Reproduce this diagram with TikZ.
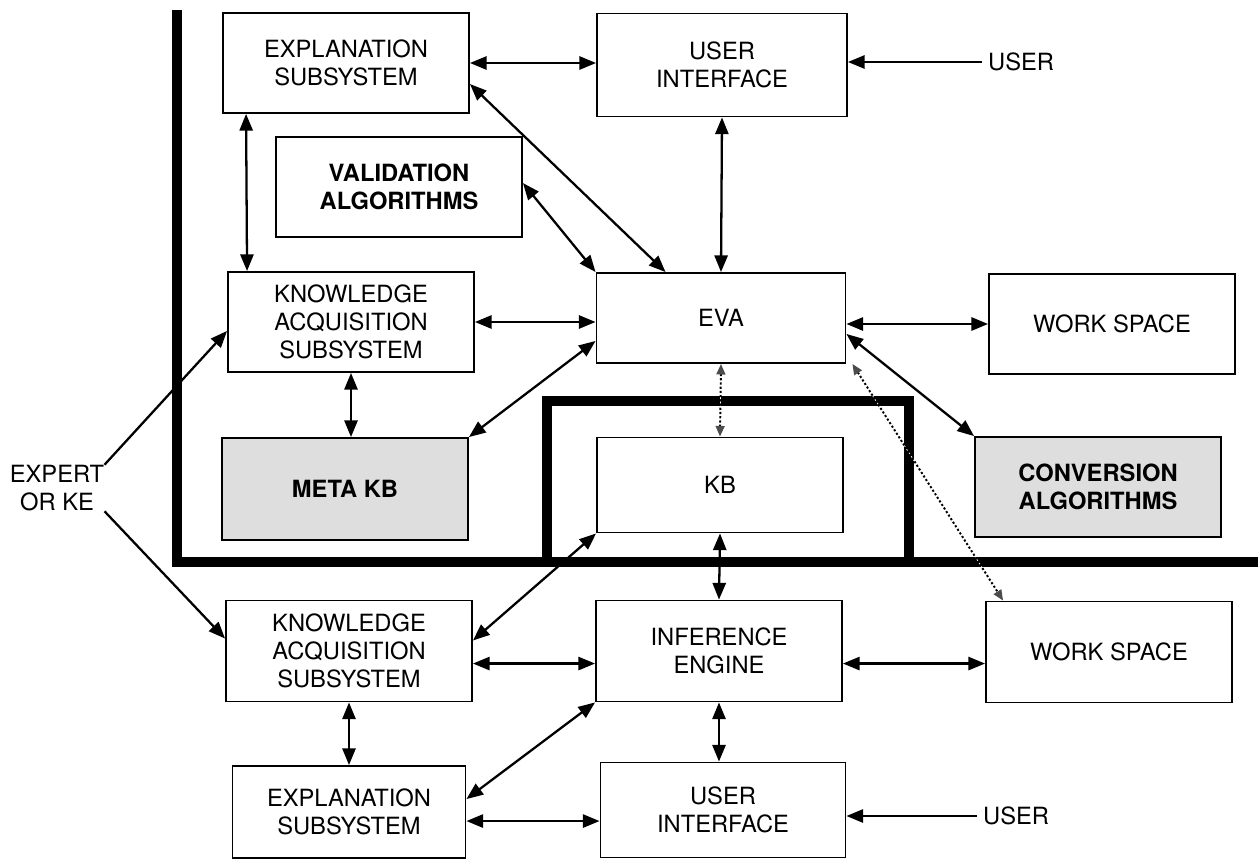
\documentclass[tikz,border=0pt]{standalone}
\usepackage{fontspec}
\setmainfont{TeX Gyre Heros}
\usetikzlibrary{arrows.meta,calc}

\begin{document}
\begin{tikzpicture}[x=0.02cm,y=-0.02cm]
\tikzset{block/.style = {draw, line width=1.1pt, minimum width=4.92cm, minimum height=2cm, inner sep=0pt, align=center, font=\fontsize{13.5}{16}\selectfont}}
\tikzset{bold/.style = {block, font=\fontsize{13.5}{16}\selectfont\bfseries}}
\tikzset{shaded/.style = {bold, fill=black!13}}
\tikzset{txt/.style = {align=center, font=\fontsize{13.5}{16}\selectfont}}
\tikzset{edge/.style = {{Triangle[length=9.5pt,width=7.5pt]}-{Triangle[length=9.5pt,width=7.5pt]}, line width=1.3pt}}
\tikzset{edge1/.style = {-{Triangle[length=9.5pt,width=7.5pt]}, line width=1.3pt}}
\tikzset{dots/.style = {{Triangle[length=6pt,width=5pt,black!70]}-{Triangle[length=6pt,width=5pt,black!70]}, line width=1.1pt, dash pattern=on 1.2pt off 1.2pt, preaction={draw=white, dash phase=1.2pt}}}
\tikzset{wall/.style = {line width=6.2pt, line join=miter}}

\useasboundingbox (0,0) rectangle (1258,862);

% walls
\draw[wall] (177,10) |- (1258,562);
\draw[wall] (547,562) -- (547,401) -- (909,401) -- (909,562);

\node[block] (explU) at (346,63) {EXPLANATION\\SUBSYSTEM};
\node[block, minimum width=5cm, minimum height=2.06cm] (uiU) at (722,65) {USER\\INTERFACE};
\node[bold] (valid) at (399,187) {VALIDATION\\ALGORITHMS};
\node[block] (kaU) at (351,322) {KNOWLEDGE\\ACQUISITION\\SUBSYSTEM};
\node[block, minimum width=4.98cm, minimum height=1.8cm] (eva) at (721,318) {EVA};
\node[block] (wsU) at (1112,324) {WORK SPACE};
\node[shaded, minimum height=2.04cm] (meta) at (345,489) {META KB};
\node[block, minimum height=1.9cm] (kb) at (720,485) {KB};
\node[shaded] (conv) at (1098,487) {CONVERSION\\ALGORITHMS};
\node[block, minimum height=2.02cm] (kaL) at (349,651) {KNOWLEDGE\\ACQUISITION\\SUBSYSTEM};
\node[block, minimum height=2.02cm] (inf) at (719,651) {INFERENCE\\ENGINE};
\node[block, minimum height=2.02cm] (wsL) at (1109,652) {WORK SPACE};
\node[block, minimum width=4.66cm, minimum height=1.84cm] (explL) at (349,812) {EXPLANATION\\SUBSYSTEM};
\node[block, minimum width=4.9cm, minimum height=1.9cm] (uiL) at (723,810) {USER\\INTERFACE};

\node[txt, anchor=west] (userU) at (982,62) {USER};
\node[txt, anchor=west] (userL) at (977,816) {USER};
\node[txt, inner sep=0pt] (expert) at (57,488) {EXPERT\\OR KE};

\coordinate (eu) at ($(explL.north east)+(0,56)$);

% upper half
\draw[edge] (explU.east) -- (explU.east -| uiU.west);
\draw[edge1] (userU.west) -- (userU.west -| uiU.east);
\draw[edge] ($(explU.south west)+(24,0)$) -- ($(kaU.north west)+(20,0)$);
\draw[edge] ($(explU.north east)+(0,72)$) -- ($(eva.north west)+(70,0)$);
\draw[edge] (uiU.south) -- (eva.north);
\draw[edge] ($(valid.north east)+(0,47)$) -- (eva.north west);
\draw[edge] (kaU.east) -- (kaU.east -| eva.west);
\draw[edge] (kaU.south) -- (kaU.south |- meta.north);
\draw[edge] ($(eva.south west)+(0,-23)$) -- (meta.north east);
\draw[edge] (wsU.west -| eva.east) -- (wsU.west);
\draw[edge] ($(eva.south east)+(0,-30)$) -- (conv.north west);
\draw[edge1] (expert.north east) -- ($(kaU.south west)+(0,-42)$);

% dotted links
\draw[dots] (eva.south) -- (kb.north);
\draw[dots] ($(eva.south east)+(6,0)$) -- ($(wsL.north west)+(18,0)$);

% lower half
\draw[edge1] (expert.south east) -- ($(kaL.north west)+(0,39)$);
\draw[edge] (kb.south) -- (inf.north);
\draw[edge] (kb.south west) -- ($(kaL.north east)+(0,41)$);
\draw[edge] ($(kaL.north east)+(0,64)$) -- ($(inf.north west)+(0,64)$);
\draw[edge] (kaL.south) -- (kaL.south |- explL.north);
\draw[edge] (inf.south west) -- ($(explL.north east)+(0,34)$);
\draw[edge] (eu) -- (eu -| uiL.west);
\draw[edge] (inf.south) -- (inf.south |- uiL.north);
\draw[edge] ($(inf.north east)+(0,64)$) -- ($(wsL.north west)+(0,63)$);
\draw[edge1] (userL.west) -- (userL.west -| uiL.east);

\end{tikzpicture}
\end{document}
